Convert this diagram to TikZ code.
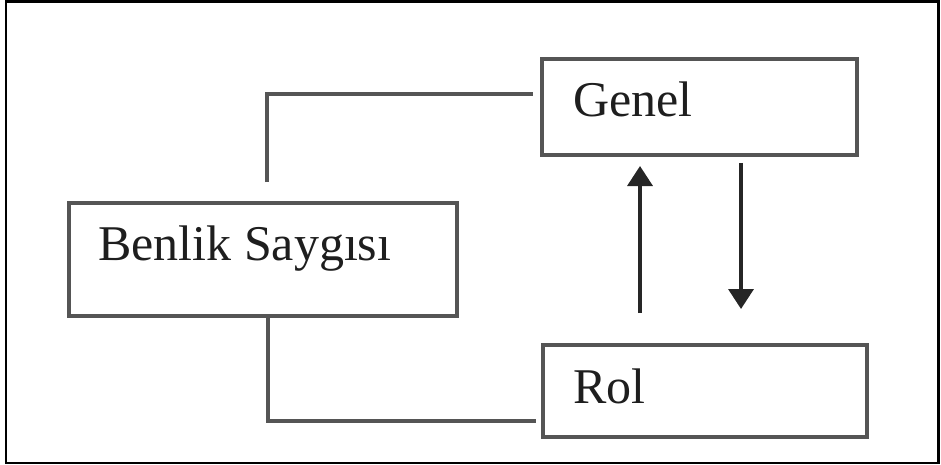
\documentclass[tikz,border=0pt]{standalone}
\usepackage{fontspec}
\setmainfont{Liberation Serif}
\usetikzlibrary{arrows.meta}
\definecolor{boxgray}{HTML}{555555}
\definecolor{txt}{HTML}{1E1E1E}
\begin{document}
\begin{tikzpicture}[x=1pt,y=-1pt,
  box/.style={draw=boxgray,line width=3.6pt,rectangle,inner sep=0pt,anchor=north west},
  lbl/.style={anchor=base west,inner sep=0pt,text=txt,font=\fontsize{50}{60}\selectfont},
  conn/.style={draw=boxgray,line width=3.2pt},
  arr/.style={draw=black!85,line width=3.6pt,-{Triangle[length=20pt,width=25pt]}}]
\useasboundingbox (0,0) rectangle (941,465);
\draw[line width=2.4pt,black] (6,1.5) rectangle (938.5,463);
% boxes
\node[box,minimum width=315pt,minimum height=96pt] (genel) at (540,57) {};
\node[box,minimum width=388pt,minimum height=113pt] (benlik) at (67,201) {};
\node[box,minimum width=324pt,minimum height=92pt] (rol) at (541,343) {};
% labels
\node[lbl] (genelt) at (573,117) {Genel};
\node[lbl] (benlikt) at (98,260) {Benlik Saygısı};
\node[lbl] (rolt) at (573,403) {Rol};
% connector endpoints
\coordinate (c1) at (267,182);
\coordinate (c2) at (267,94);
\coordinate (c3) at (533,94);
\coordinate (d1) at (268,314);
\coordinate (d2) at (268,421);
\coordinate (d3) at (536,421);
\draw[conn] (c1) -- (c2) -- (c3);
\draw[conn] (d1) -- (d2) -- (d3);
% arrows
\coordinate (u1) at (640,313);
\coordinate (u2) at (640,166);
\coordinate (w1) at (741,163);
\coordinate (w2) at (741,309);
\draw[arr] (u1) -- (u2);
\draw[arr] (w1) -- (w2);
\end{tikzpicture}
\end{document}
